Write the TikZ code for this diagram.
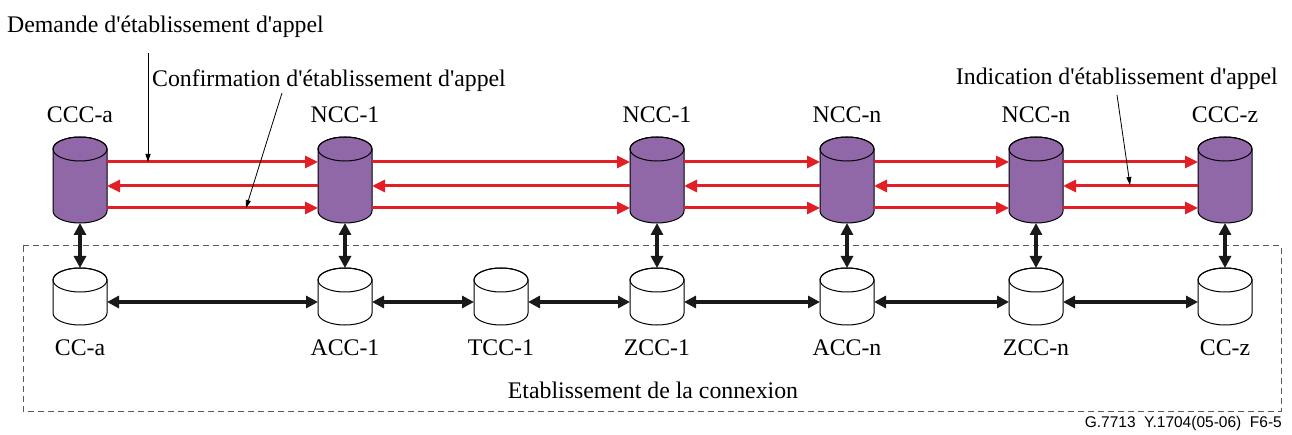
\documentclass[tikz,border=0pt]{standalone}
\usepackage{fontspec}
\setmainfont{Liberation Serif}
\newfontfamily\footfont{Liberation Sans}
\usepackage{xcolor}
\usetikzlibrary{calc,positioning,arrows.meta}

\definecolor{ctrlpurple}{RGB}{144,104,168}
\definecolor{sigred}{RGB}{227,30,36}
\newcommand{\ap}{\textquotesingle}
% cylinder drawn on the box of a named node
\newcommand{\cylbody}[2]{%
    \filldraw[line width=1pt,fill=#2] ([yshift=-12pt]#1.north west) -- ([yshift=12pt]#1.south west)
        arc[start angle=180,end angle=360,x radius=27pt,y radius=12pt]
        -- ([yshift=-12pt]#1.north east)
        arc[start angle=0,end angle=180,x radius=27pt,y radius=12pt] -- cycle;
    \draw[line width=1pt] ([yshift=-12pt]#1.north) ellipse [x radius=27pt,y radius=12pt];
}

\tikzset{
    ctrl/.style={rectangle,draw=none,minimum width=54pt,minimum height=86pt,inner sep=0pt,outer sep=0pt},
    conn/.style={rectangle,draw=none,minimum width=54pt,minimum height=57pt,inner sep=0pt,outer sep=0pt},
    lbl/.style={draw=none,inner sep=0pt,font=\fontsize{23.8}{28}\selectfont},
    sig/.style={line width=3pt,sigred,-{Triangle[length=13pt,width=12pt]}},
    link/.style={line width=3.5pt,black!90,{Triangle[length=12pt,width=12pt]}-{Triangle[length=12pt,width=12pt]}},
    note/.style={line width=0.8pt,-{Triangle[length=8pt,width=5pt]}}
}

\begin{document}
\begin{tikzpicture}[x=1pt,y=-1pt]
    \useasboundingbox (0,0) rectangle (1292,435);

    \node (ccca) [ctrl] at (80,180) { };
    \node (ncc1a) [ctrl] at (345,180) { };
    \node (ncc1b) [ctrl] at (657,180) { };
    \node (nccna) [ctrl] at (847,180) { };
    \node (nccnb) [ctrl] at (1036,180) { };
    \node (cccz) [ctrl] at (1225,180) { };

    \node (cccalabel) [lbl,above=14pt of ccca] {CCC-a};
    \node (ncc1alabel) [lbl,above=14pt of ncc1a] {NCC-1};
    \node (ncc1blabel) [lbl,above=14pt of ncc1b] {NCC-1};
    \node (nccnalabel) [lbl,above=14pt of nccna] {NCC-n};
    \node (nccnblabel) [lbl,above=14pt of nccnb] {NCC-n};
    \node (ccczlabel) [lbl,above=14pt of cccz] {CCC-z};

    \node (cca) [conn,below=45pt of ccca] { };
    \node (acc1) [conn,below=45pt of ncc1a] { };
    \node (zcc1) [conn,below=45pt of ncc1b] { };
    \node (tcc1) [conn] at ($(acc1)!0.5!(zcc1)$) { };
    \node (accn) [conn,below=45pt of nccna] { };
    \node (zccn) [conn,below=45pt of nccnb] { };
    \node (ccz) [conn,below=45pt of cccz] { };

    \node (ccalabel) [lbl,below=15pt of cca] {CC-a};
    \node (acc1label) [lbl,below=15pt of acc1] {ACC-1};
    \node (tcc1label) [lbl,below=15pt of tcc1] {TCC-1};
    \node (zcc1label) [lbl,below=15pt of zcc1] {ZCC-1};
    \node (accnlabel) [lbl,below=15pt of accn] {ACC-n};
    \node (zccnlabel) [lbl,below=15pt of zccn] {ZCC-n};
    \node (cczlabel) [lbl,below=15pt of ccz] {CC-z};

    \foreach \n in {ccca,ncc1a,ncc1b,nccna,nccnb,cccz} { \cylbody{\n}{ctrlpurple} }
    \foreach \n in {cca,acc1,tcc1,zcc1,accn,zccn,ccz} { \cylbody{\n}{white} }

    % Connection domain
    \draw[gray!70!black,line width=1pt,dash pattern=on 6pt off 4pt] (23,246) rectangle (1281,411);
    \node (estlabel) [lbl,anchor=base] at (653,398) {Etablissement de la connexion};

    % Arrows
    \foreach \l/\r in {ccca/ncc1a,ncc1a/ncc1b,ncc1b/nccna,nccna/nccnb,nccnb/cccz} {
        \draw[sig] ([yshift=18pt]\l.east) -- ([yshift=18pt]\r.west);
        \draw[sig] ([yshift=-6pt]\r.west) -- ([yshift=-6pt]\l.east);
        \draw[sig] ([yshift=-28pt]\l.east) -- ([yshift=-28pt]\r.west);
    }
    \foreach \t/\b in {ccca/cca,ncc1a/acc1,ncc1b/zcc1,nccna/accn,nccnb/zccn,cccz/ccz}
        \draw[link] (\t.south) -- (\b.north);
    \foreach \l/\r in {cca/acc1,acc1/tcc1,tcc1/zcc1,zcc1/accn,accn/zccn,zccn/ccz}
        \draw[link] ([yshift=-5.5pt]\l.east) -- ([yshift=-5.5pt]\r.west);

    % Message labels
    \node (demlabel) [lbl,anchor=base west] at (7,32.5) {Demande d\ap{}établissement d\ap{}appel};
    \node (conflabel) [lbl,anchor=base west] at (152,87) {Confirmation d\ap{}établissement d\ap{}appel};
    \node (indlabel) [lbl,anchor=base east] at (1278,84.5) {Indication d\ap{}établissement d\ap{}appel};

    \coordinate (demfoot) at (148,53);
    \coordinate (demtip) at (148,162);
    \coordinate (conffoot) at (282,93);
    \coordinate (conftip) at (246,208);
    \coordinate (indfoot) at (1117,95);
    \coordinate (indtip) at (1130,185);
    \draw[note] (demfoot) -- (demtip);
    \draw[note] (conffoot) -- (conftip);
    \draw[note] (indfoot) -- (indtip);

    \node (figref) [anchor=base east,inner sep=0pt,font={\footfont\fontsize{15.5}{18}\selectfont}] at (1282,427) {G.7713\ \ Y.1704(05-06)\ \ F6-5};
\end{tikzpicture}
\end{document}
